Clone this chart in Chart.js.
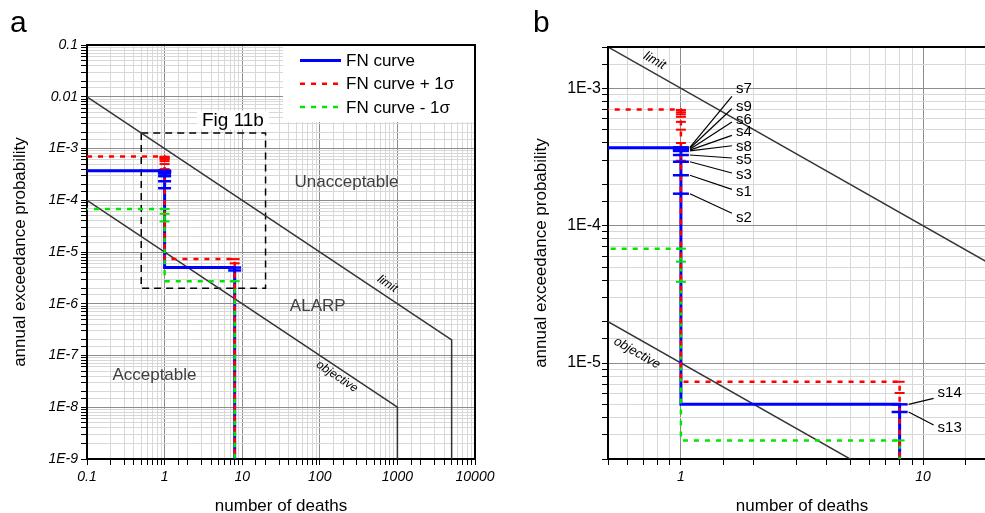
<!DOCTYPE html>
<html>
<head>
<meta charset="utf-8">
<script src="https://cdn.jsdelivr.net/npm/chart.js@4.4.1/dist/chart.umd.min.js"></script>
<style>
html, body { margin: 0; padding: 0; background: #fff; overflow: hidden; width: 985px; height: 513px; }
canvas { position: absolute; top: 0; }
</style>
</head>
<body>
<canvas id="chartA" width="500" height="513" style="left:0"></canvas>
<canvas id="chartB" width="500" height="513" style="left:500px"></canvas>
<script>
// FN curves: number of deaths N vs annual exceedance probability F
var curveN  = [0.1, 1, 1, 8, 8];
var fnCurve = [3.7e-4, 3.7e-4, 5.0e-6, 5.0e-6, 1e-9];
var fnPlus  = [7.0e-4, 7.0e-4, 7.3e-6, 7.3e-6, 1e-9];
var fnMinus = [6.8e-5, 6.8e-5, 2.73e-6, 2.73e-6, 1e-9];

// criteria lines
var limitN = [0.1, 5000, 5000];
var limitF = [1e-2, 2e-7, 1e-9];
var objectiveN = [0.1, 1000, 1000];
var objectiveF = [1e-4, 1e-8, 1e-9];

// extent of panel b, drawn as a dashed box in panel a
var boxN = [0.5, 20, 20, 0.5, 0.5];
var boxF = [2e-3, 2e-3, 2e-6, 2e-6, 2e-3];

// single scenarios
var scenNames = ['s7', 's9', 's6', 's4', 's8', 's5', 's3', 's1', 's2', 's14', 's13'];
var scenN = [1, 1, 1, 1, 1, 1, 1, 1, 1, 8, 8];
var scenF = [3.72e-4, 3.66e-4, 3.6e-4, 3.55e-4, 3.5e-4, 3.27e-4, 2.92e-4, 2.33e-4, 1.71e-4, 5.0e-6, 4.4e-6];
var plusN = [1, 1, 1, 1, 1, 1, 1, 1, 8, 8];
var plusF = [6.95e-4, 6.7e-4, 6.47e-4, 6.2e-4, 5.7e-4, 5.0e-4, 4.0e-4, 2.97e-4, 7.3e-6, 6.05e-6];
var minusN = [1, 1, 1, 8];
var minusF = [6.8e-5, 5.47e-5, 3.9e-5, 2.73e-6];

// tick labels
var xTickValsA = [0.1, 1, 10, 100, 1000, 10000];
var xTickTextA = ['0.1', '1', '10', '100', '1000', '10000'];
var yTickValsA = [0.1, 0.01, 1e-3, 1e-4, 1e-5, 1e-6, 1e-7, 1e-8, 1e-9];
var yTickTextA = ['0.1', '0.01', '1E-3', '1E-4', '1E-5', '1E-6', '1E-7', '1E-8', '1E-9'];
var xTickValsB = [1, 10];
var xTickTextB = ['1', '10'];
var yTickValsB = [1e-3, 1e-4, 1e-5];
var yTickTextB = ['1E-3', '1E-4', '1E-5'];

// label layout for scenario tags in panel b (pixel offsets from marker)
var tagLayout = [
  [55, -58, 7], [55, -41.6, 2], [55, -29.3, 2], [55, -17.8, 3], [55, -4.2, -1],
  [55, 5, -2], [55, 13.2, -2], [55, 17.1, -3], [55, 24.6, -5],
  [38, -11, 5], [38, 16, -3]
];

var BLUE = '#0000ff', RED = '#ff0000', GREEN = '#00e600', DARK = '#333333';
Chart.defaults.font.family = "'Liberation Sans', Arial, sans-serif";
Chart.defaults.color = '#000';

function pts(xs, ys) {
  return xs.map(function (x, i) { return { x: x, y: ys[i] }; });
}
function isDecade(v) {
  var l = Math.log10(v);
  return Math.abs(l - Math.round(l)) < 1e-6;
}
function tickText(vals, texts) {
  return function (v) {
    for (var i = 0; i < vals.length; i++) {
      if (Math.abs(v / vals[i] - 1) < 1e-6) return texts[i];
    }
    return '';
  };
}
function gridColor(ctx) {
  return ctx.tick && isDecade(ctx.tick.value) ? '#8c8c8c' : '#d8d8d8';
}

function makeDatasets(capBlue, withBox) {
  var ds = [
    { label: 'scen', data: pts(scenN, scenF), showLine: false, pointStyle: 'line',
      pointRadius: capBlue, pointBorderColor: BLUE, pointBorderWidth: 2.5, order: 0 },
    { label: 'plus', data: pts(plusN, plusF), showLine: false, pointStyle: 'line',
      pointRadius: 5, pointBorderColor: RED, pointBorderWidth: 2, order: 1 },
    { label: 'minus', data: pts(minusN, minusF), showLine: false, pointStyle: 'line',
      pointRadius: 5, pointBorderColor: GREEN, pointBorderWidth: 2, order: 1 },
    { label: 'FN curve + 1\u03c3', data: pts(curveN, fnPlus), borderColor: RED, borderWidth: 2.5,
      borderDash: [5, 6], pointRadius: 0, order: 2 },
    { label: 'FN curve - 1\u03c3', data: pts(curveN, fnMinus), borderColor: GREEN, borderWidth: 2.5,
      borderDash: [5, 6], borderDashOffset: 4, pointRadius: 0, order: 2 },
    { label: 'FN curve', data: pts(curveN, fnCurve), borderColor: BLUE, borderWidth: 3,
      pointRadius: 0, order: 3 },
    { label: 'limit', data: pts(limitN, limitF), borderColor: DARK, borderWidth: 1.5,
      pointRadius: 0, order: 4 },
    { label: 'objective', data: pts(objectiveN, objectiveF), borderColor: DARK, borderWidth: 1.5,
      pointRadius: 0, order: 4 }
  ];
  if (withBox) {
    ds.push({ label: 'box', data: pts(boxN, boxF), borderColor: '#000', borderWidth: 1.5,
      borderDash: [7, 5], pointRadius: 0, order: 4 });
  }
  return ds;
}

function makeScales(o) {
  return {
    x: {
      type: 'logarithmic', min: o.xmin, max: o.xmax,
      title: { display: true, text: 'number of deaths', font: { size: 17 }, padding: { top: 0, bottom: -4 } },
      ticks: { autoSkip: false, maxRotation: 0, padding: 4, font: { size: 14, style: 'italic' },
        callback: tickText(o.xv, o.xt) },
      grid: { color: gridColor, tickLength: 6, tickColor: '#000' },
      border: { color: '#000', width: 2 },
      afterFit: function (s) { s.height = 54; s.paddingLeft = 0; s.paddingRight = 0; }
    },
    y: {
      type: 'logarithmic', min: o.ymin, max: o.ymax,
      title: { display: true, text: 'annual exceedance probability', font: { size: 17 }, padding: { top: o.titlePad, bottom: 0 } },
      ticks: { autoSkip: false, padding: o.yPad, font: o.yFont, callback: tickText(o.yv, o.yt) },
      grid: { color: gridColor, tickLength: 6, tickColor: '#000' },
      border: { color: '#000', width: 2 },
      afterFit: function (s) { s.width = o.yWidth; s.paddingTop = 0; s.paddingBottom = 0; }
    }
  };
}

// text laid along one of the criteria lines
function lineLabel(chart, nVal, fOfN, text, offset, size) {
  var xs = chart.scales.x, ys = chart.scales.y, c = chart.ctx;
  var x1 = xs.getPixelForValue(nVal), y1 = ys.getPixelForValue(fOfN(nVal));
  var x2 = xs.getPixelForValue(nVal * 2), y2 = ys.getPixelForValue(fOfN(nVal * 2));
  var ang = Math.atan2(y2 - y1, x2 - x1);
  var cx = x1 + offset * Math.sin(ang), cy = y1 - offset * Math.cos(ang);
  c.save();
  c.translate(cx, cy);
  c.rotate(ang);
  c.font = 'italic ' + size + "px 'Liberation Sans', Arial, sans-serif";
  c.fillStyle = '#000';
  c.textAlign = 'center';
  c.textBaseline = 'middle';
  c.fillText(text, 0, 0);
  c.restore();
}
function limitF1(n) { return 1e-3 / n; }
function objectiveF1(n) { return 1e-5 / n; }

function frame(chart) {
  var c = chart.ctx, a = chart.chartArea;
  c.save();
  c.strokeStyle = '#000';
  c.lineWidth = 2;
  c.beginPath();
  c.moveTo(a.left, a.top);
  c.lineTo(a.right, a.top);
  c.lineTo(a.right, a.bottom);
  c.stroke();
  c.restore();
}
function panelLetter(chart, letter, x) {
  var c = chart.ctx;
  c.save();
  c.font = "30px 'Liberation Sans', Arial, sans-serif";
  c.fillStyle = '#000';
  c.textBaseline = 'alphabetic';
  c.fillText(letter, x, 32);
  c.restore();
}
function textAt(chart, text, n, f, size, color) {
  var c = chart.ctx;
  c.save();
  c.font = size + "px 'Liberation Sans', Arial, sans-serif";
  c.fillStyle = color;
  c.textAlign = 'center';
  c.textBaseline = 'middle';
  c.fillText(text, chart.scales.x.getPixelForValue(n), chart.scales.y.getPixelForValue(f));
  c.restore();
}

var panelAPlugin = {
  id: 'panelA',
  beforeDatasetsDraw: function (chart) {
    var c = chart.ctx, a = chart.chartArea;
    c.save();
    c.fillStyle = '#fff';
    // legend background
    c.fillRect(a.right - 192, a.top, 192, 77);
    // behind the "Fig 11b" tag
    var fx = chart.scales.x.getPixelForValue(7.6), fy = chart.scales.y.getPixelForValue(3.48e-3);
    c.fillRect(fx - 36, fy - 10, 72, 19);
    c.restore();
  },
  afterDraw: function (chart) {
    var c = chart.ctx, a = chart.chartArea;
    frame(chart);
    panelLetter(chart, 'a', 10);

    // legend
    var items = chart.data.datasets.filter(function (d) { return /^FN curve/.test(d.label); });
    items.sort(function (p, q) { return p.label.length - q.label.length; });
    items.forEach(function (d, i) {
      var y = a.top + 15.5 + i * 23.3;
      c.save();
      c.strokeStyle = d.borderColor;
      c.lineWidth = d.borderWidth;
      c.setLineDash(d.borderDash || []);
      c.beginPath();
      c.moveTo(a.right - 175, y);
      c.lineTo(a.right - 134, y);
      c.stroke();
      c.setLineDash([]);
      c.font = "17px 'Liberation Sans', Arial, sans-serif";
      c.fillStyle = '#000';
      c.textBaseline = 'middle';
      c.fillText(d.label, a.right - 129, y + 1);
      c.restore();
    });

    textAt(chart, 'Fig 11b', 7.6, 3.48e-3, 19, '#000');
    textAt(chart, 'Unacceptable', 221, 2.27e-4, 17, '#404040');
    textAt(chart, 'ALARP', 94, 8.8e-7, 17, '#404040');
    textAt(chart, 'Acceptable', 0.74, 4.07e-8, 17, '#404040');
    lineLabel(chart, 620, limitF1, 'limit', 11, 12);
    lineLabel(chart, 190, objectiveF1, 'objective', -8, 12);
  }
};

var panelBPlugin = {
  id: 'panelB',
  afterDraw: function (chart) {
    var c = chart.ctx;
    frame(chart);
    panelLetter(chart, 'b', 33);
    lineLabel(chart, 0.74, limitF1, 'limit', 11, 13);
    lineLabel(chart, 0.70, objectiveF1, 'objective', -13, 13);

    // scenario tags with leader lines
    var xs = chart.scales.x, ys = chart.scales.y;
    c.save();
    c.strokeStyle = '#000';
    c.lineWidth = 1.2;
    c.font = "15px 'Liberation Sans', Arial, sans-serif";
    c.fillStyle = '#000';
    c.textBaseline = 'middle';
    scenNames.forEach(function (name, i) {
      var px = xs.getPixelForValue(scenN[i]), py = ys.getPixelForValue(scenF[i]);
      var L = tagLayout[i];
      var ty = py + L[1];
      c.beginPath();
      c.moveTo(px + 9, py);
      c.lineTo(px + L[0] - 4, ty + L[2]);
      c.stroke();
      c.fillText(name, px + L[0], ty);
    });
    c.restore();
  }
};

new Chart(document.getElementById('chartA'), {
  type: 'line',
  data: { datasets: makeDatasets(6.5, true) },
  options: {
    responsive: false, animation: false, events: [],
    layout: { autoPadding: false, padding: { left: 0, top: 45, right: 25, bottom: 0 } },
    plugins: { legend: { display: false }, tooltip: { enabled: false } },
    elements: { line: { tension: 0, fill: false } },
    scales: makeScales({
      xmin: 0.1, xmax: 10000, ymin: 1e-9, ymax: 0.1,
      xv: xTickValsA, xt: xTickTextA, yv: yTickValsA, yt: yTickTextA,
      yFont: { size: 14, style: 'italic' }, yPad: 3, yWidth: 87, titlePad: 10
    })
  },
  plugins: [panelAPlugin]
});

new Chart(document.getElementById('chartB'), {
  type: 'line',
  data: { datasets: makeDatasets(8, false) },
  options: {
    responsive: false, animation: false, events: [],
    layout: { autoPadding: false, padding: { left: 0, top: 47, right: 4, bottom: 0 } },
    plugins: { legend: { display: false }, tooltip: { enabled: false } },
    elements: { line: { tension: 0, fill: false } },
    scales: makeScales({
      xmin: 0.5, xmax: 20, ymin: 2e-6, ymax: 2e-3,
      xv: xTickValsB, xt: xTickTextB, yv: yTickValsB, yt: yTickTextB,
      yFont: { size: 16 }, yPad: 1, yWidth: 108, titlePad: 31.5
    })
  },
  plugins: [panelBPlugin]
});
</script>
</body>
</html>
